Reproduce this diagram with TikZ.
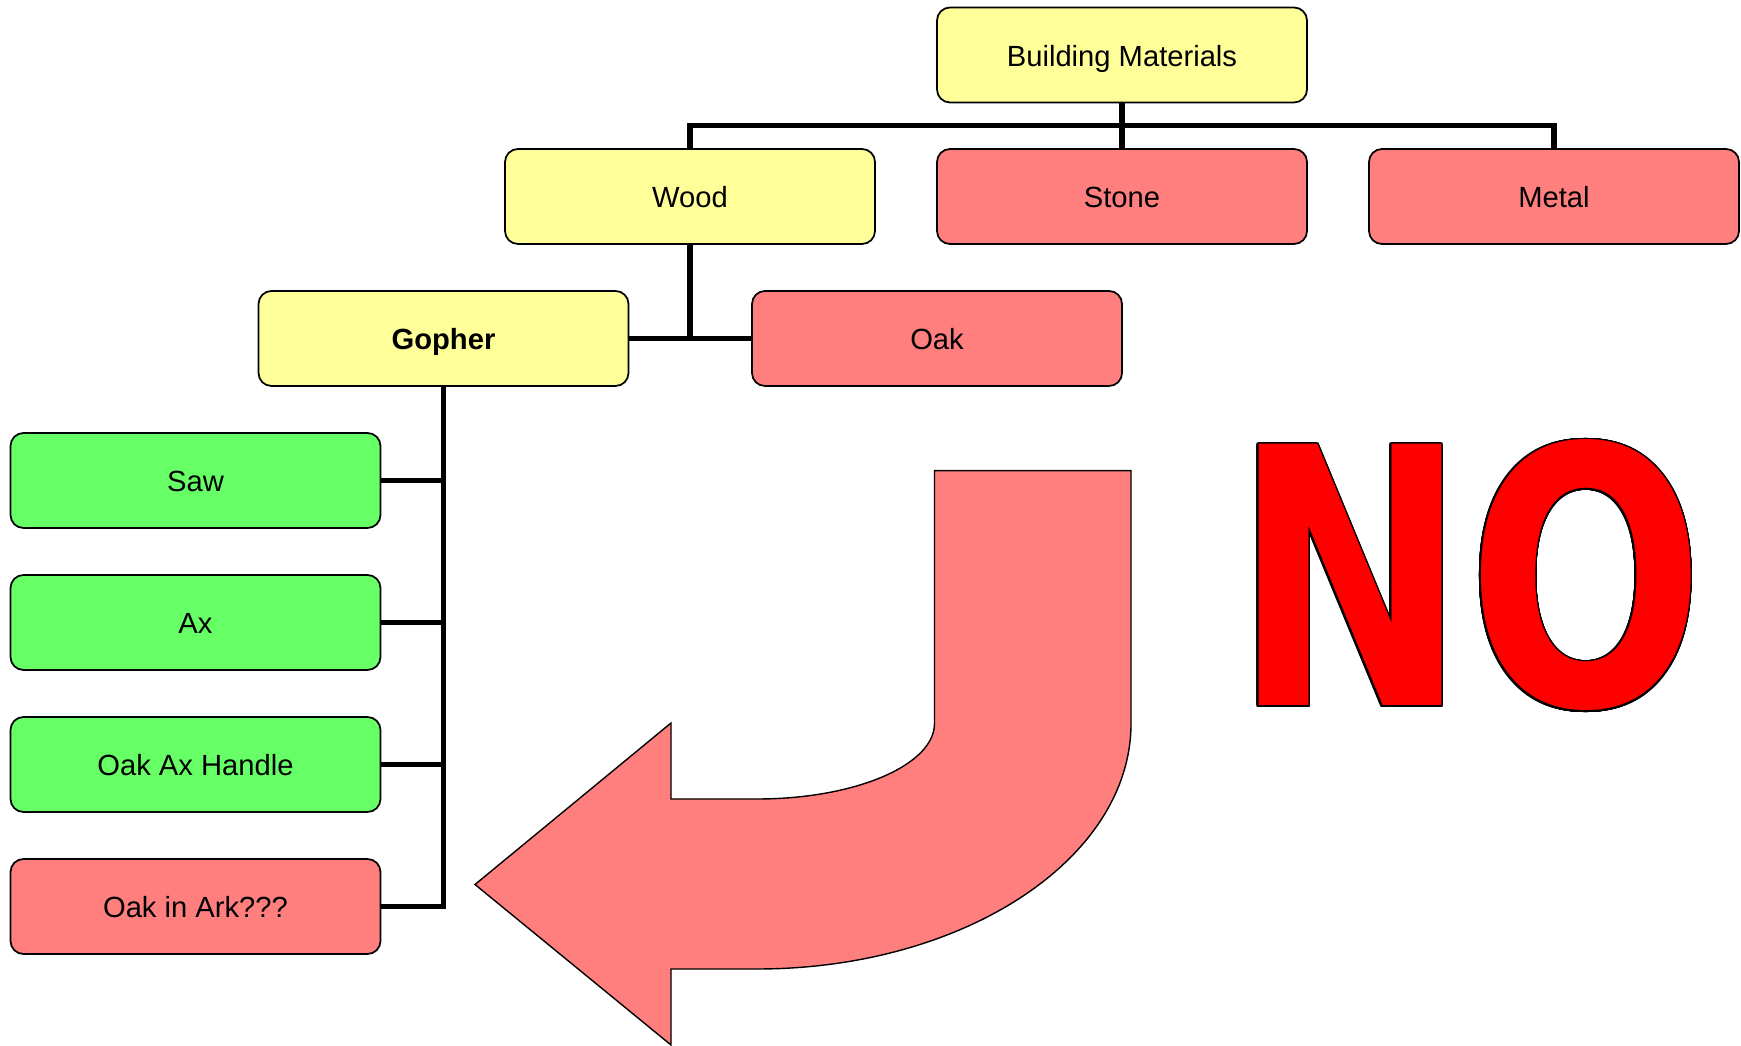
\documentclass[tikz,border=0pt]{standalone}
\usepackage{fontspec}
\usepackage{graphicx}
\usepackage{contour}
\setmainfont{Liberation Sans}
\newfontfamily\nofont{DejaVu Sans}
\contourlength{0.55pt}
\contournumber{32}
\definecolor{boxyel}{HTML}{FFFF99}
\definecolor{boxred}{HTML}{FF7F7F}
\definecolor{boxgreen}{HTML}{66FF66}
\definecolor{nored}{HTML}{FF0000}
\begin{document}
\begin{tikzpicture}[
    box/.style={draw, rounded corners=0.13cm, minimum width=3.7cm, minimum height=0.95cm,
                line width=0.5pt, text height=6.4pt, text depth=0pt,
                font=\fontsize{8.3}{10}\selectfont},
    wire/.style={line width=1.7pt}]
      \useasboundingbox (0, 0) rectangle (17.41, -10.46);
      \draw (11.22, -0.55) node (bm) [box, fill=boxyel] {Building Materials}
            (6.9, -1.965) node (wood) [box, fill=boxyel] {Wood}
            (11.22, -1.965) node (stone) [box, fill=boxred] {Stone}
            (15.54, -1.965) node (metal) [box, fill=boxred] {Metal}
            (4.435, -3.385) node (gopher) [box, fill=boxyel] {\textbf{Gopher}}
            (9.37, -3.385) node (oak) [box, fill=boxred] {Oak}
            (1.955, -4.805) node (saw) [box, fill=boxgreen] {Saw}
            (1.955, -6.225) node (ax) [box, fill=boxgreen] {Ax}
            (1.955, -7.645) node (handle) [box, fill=boxgreen] {Oak Ax Handle}
            (1.955, -9.065) node (ark) [box, fill=boxred] {Oak in Ark???};
      \coordinate (bus) at (11.22, -1.255);
      \draw[wire] (wood.north) |- (bus) -| (metal.north)
                  (bm) edge (stone);
      \draw[wire] (wood) -- (wood |- gopher)
                  (gopher) -- (oak);
      \draw[wire] (gopher) |- (ark);
      \foreach \k in {saw, ax, handle}
        \draw[wire] (\k) -- (\k -| gopher);
      \draw[fill=boxred, line width=0.4pt]
            (9.345, -4.707) -- (11.31, -4.707) -- (11.31, -7.234)
            arc[start angle=0, end angle=-90, x radius=3.74, y radius=2.456]
            -- (6.71, -9.69) -- (6.71, -10.45) -- (4.75, -8.845) -- (6.71, -7.23)
            -- (6.71, -7.99) -- (7.57, -7.99)
            arc[start angle=-90, end angle=0, x radius=1.775, y radius=0.756] -- cycle;
      \node (no) [anchor=base] at (14.69, -7.06)
            {\scalebox{0.78}[1]{\nofont\bfseries\fontsize{102}{102}\selectfont
             \textcolor{nored}{\contour{black}{NO}}}};
\end{tikzpicture}
\end{document}
